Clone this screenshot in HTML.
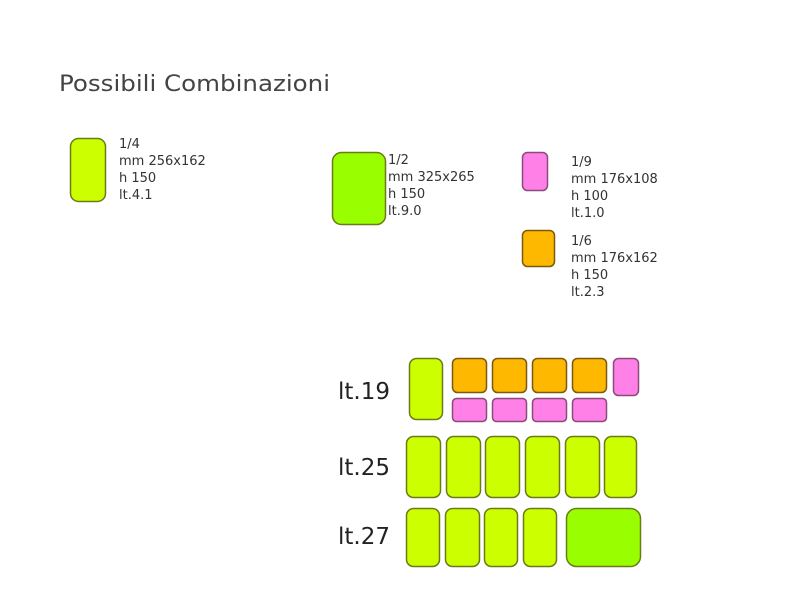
<!DOCTYPE html>
<html><head><meta charset="utf-8"><style>html,body{margin:0;padding:0;background:#fff}svg{display:block}</style></head><body>
<svg width="800" height="600" xmlns="http://www.w3.org/2000/svg" font-family="DejaVu Sans, Liberation Sans, sans-serif">
<text x="59" y="91" font-size="22" fill="#444" textLength="271" lengthAdjust="spacingAndGlyphs">Possibili Combinazioni</text>
<g stroke="#6b7a1a" stroke-width="1.5">
<rect x="70.5" y="138.5" width="35" height="63" rx="8" fill="#ccff00"/>
<rect x="332.5" y="152.5" width="53" height="72" rx="9" fill="#99ff00"/>
<rect x="522.5" y="152.5" width="25" height="38" rx="5" fill="#ff80e6" stroke="#8a4a7a"/>
<rect x="522.5" y="230.5" width="32" height="36" rx="5" fill="#ffb800" stroke="#7a5a10"/>
</g>
<g font-size="13" fill="#333">
<text x="119" y="148">1/4</text><text x="119" y="165">mm 256x162</text><text x="119" y="182">h 150</text><text x="119" y="199">lt.4.1</text>
<text x="388" y="164">1/2</text><text x="388" y="181">mm 325x265</text><text x="388" y="198">h 150</text><text x="388" y="215">lt.9.0</text>
<text x="571" y="166">1/9</text><text x="571" y="183">mm 176x108</text><text x="571" y="200">h 100</text><text x="571" y="217">lt.1.0</text>
<text x="571" y="245">1/6</text><text x="571" y="262">mm 176x162</text><text x="571" y="279">h 150</text><text x="571" y="296">lt.2.3</text>
</g>
<g font-size="23" fill="#222">
<text x="338" y="399">lt.19</text>
<text x="338" y="475">lt.25</text>
<text x="338" y="544">lt.27</text>
</g>
<g stroke="#6b7a1a" stroke-width="1.5" fill="#ccff00">
<rect x="409.5" y="358.5" width="33" height="61" rx="7"/>
<rect x="406.5" y="436.5" width="34" height="61" rx="7"/>
<rect x="446.5" y="436.5" width="34" height="61" rx="7"/>
<rect x="485.5" y="436.5" width="34" height="61" rx="7"/>
<rect x="525.5" y="436.5" width="34" height="61" rx="7"/>
<rect x="565.5" y="436.5" width="34" height="61" rx="7"/>
<rect x="604.5" y="436.5" width="32" height="61" rx="7"/>
<rect x="406.5" y="508.5" width="33" height="58" rx="7"/>
<rect x="445.5" y="508.5" width="34" height="58" rx="7"/>
<rect x="484.5" y="508.5" width="33" height="58" rx="7"/>
<rect x="523.5" y="508.5" width="33" height="58" rx="7"/>
<rect x="566.5" y="508.5" width="74" height="58" rx="10" fill="#99ff00"/>
</g>
<g stroke="#7a5a10" stroke-width="1.5" fill="#ffb800">
<rect x="452.5" y="358.5" width="34" height="34" rx="5"/>
<rect x="492.5" y="358.5" width="34" height="34" rx="5"/>
<rect x="532.5" y="358.5" width="34" height="34" rx="5"/>
<rect x="572.5" y="358.5" width="34" height="34" rx="5"/>
</g>
<g stroke="#8a4a7a" stroke-width="1.5" fill="#ff80e6">
<rect x="613.5" y="358.5" width="25" height="37" rx="5"/>
<rect x="452.5" y="398.5" width="34" height="23" rx="4"/>
<rect x="492.5" y="398.5" width="34" height="23" rx="4"/>
<rect x="532.5" y="398.5" width="34" height="23" rx="4"/>
<rect x="572.5" y="398.5" width="34" height="23" rx="4"/>
</g>
</svg>
</body></html>
